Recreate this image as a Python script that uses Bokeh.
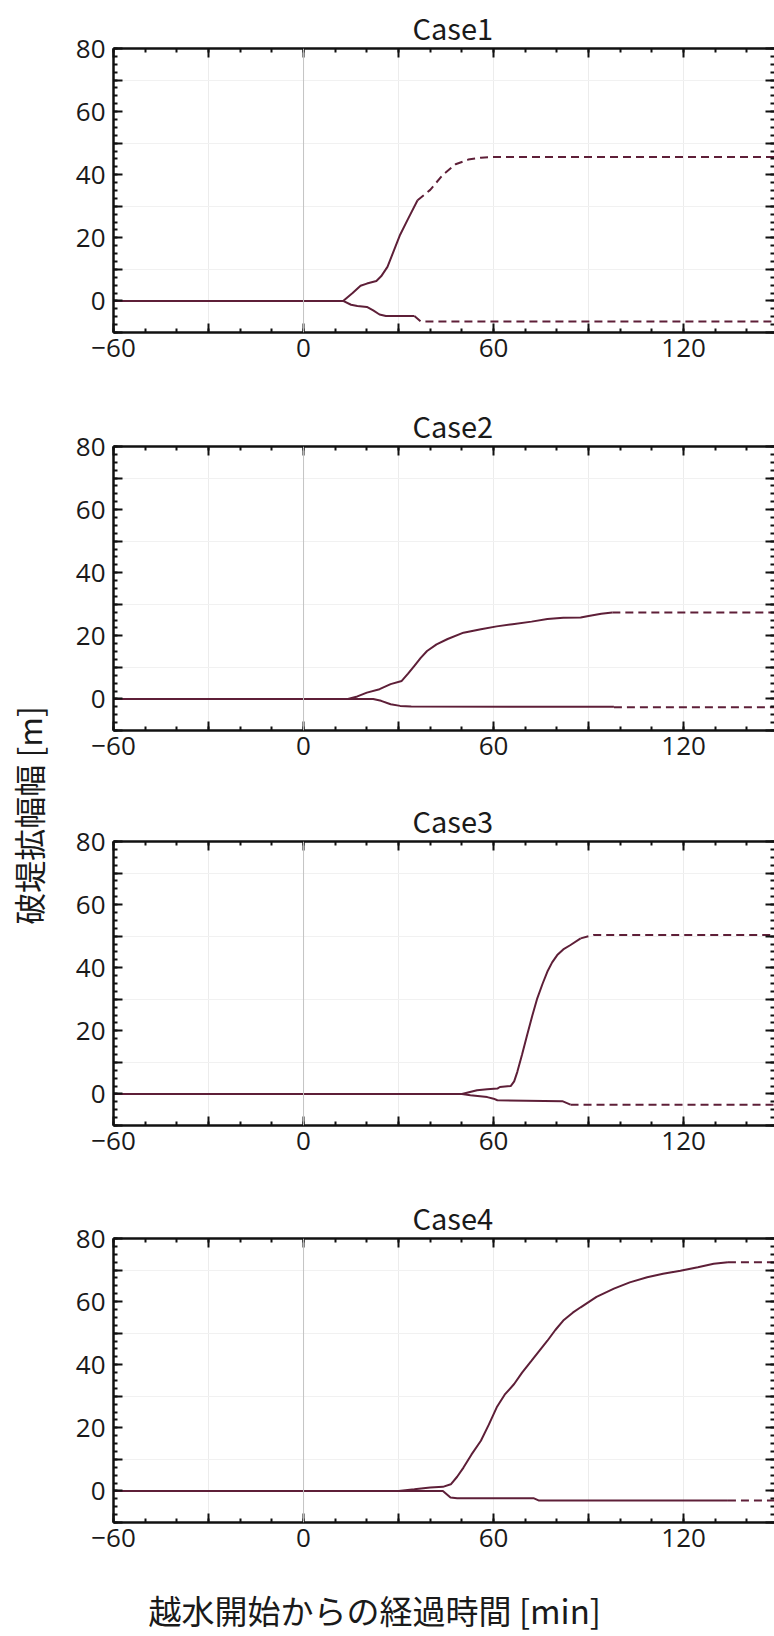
import math
from bokeh.plotting import figure
from bokeh.models import LinearAxis, FixedTicker, Label, Range1d, Span, Grid, Title
from bokeh.layouts import row, column
from bokeh.embed import file_html
from bokeh.resources import INLINE

# ---------------- data ----------------
CASES = ["Case1", "Case2", "Case3", "Case4"]
X_LABEL = "越水開始からの経過時間 [min]"
Y_LABEL = "破堤拡幅幅 [m]"

X_TICKS = [-60, -30, 0, 30, 60, 90, 120, 150]
X_TICK_LABELS = {-60: "\u221260", -30: "", 0: "0", 30: "", 60: "60", 90: "", 120: "120", 150: ""}
Y_TICKS = [-10, 0, 10, 20, 30, 40, 50, 60, 70, 80]
Y_TICK_LABELS = {-10: "", 0: "0", 10: "", 20: "20", 30: "", 40: "40", 50: "", 60: "60", 70: "", 80: "80"}

# Case1
c1_up_t = [-60, 12.5, 15.5, 18, 20, 23, 24.5, 26.5, 30.5, 33, 36]
c1_up_w = [0, 0, 2.5, 4.8, 5.5, 6.3, 7.8, 10.8, 21, 26, 31.9]
c1_up_dash_t = [36, 40, 44, 48, 52, 56, 60, 150]
c1_up_dash_w = [31.9, 35.2, 40, 43.3, 44.8, 45.4, 45.6, 45.6]
c1_lo_t = [-60, 12.5, 15, 17, 20, 22, 24, 26, 35]
c1_lo_w = [0, 0, -1.2, -1.6, -1.9, -3, -4.3, -4.8, -4.8]
c1_lo_dash_t = [35, 37, 150]
c1_lo_dash_w = [-4.8, -6.5, -6.5]

# Case2
c2_up_t = [-60, 14, 17, 20, 24, 27.5, 31, 33, 35, 37, 39, 42, 45.5, 50.5, 56, 61, 66, 72, 77, 82, 87.5, 90, 94, 97.5]
c2_up_w = [0, 0, 0.8, 2, 3.1, 4.7, 5.7, 8, 10.5, 13, 15.2, 17.3, 19, 21, 22.1, 23, 23.7, 24.5, 25.3, 25.7, 25.8, 26.3, 27, 27.4]
c2_up_dash_t = [97.5, 150]
c2_up_dash_w = [27.4, 27.4]
c2_lo_t = [-60, 22, 24.5, 27.5, 30.5, 34, 98]
c2_lo_w = [0, 0, -0.6, -1.7, -2.2, -2.4, -2.5]
c2_lo_dash_t = [98, 150]
c2_lo_dash_w = [-2.6, -2.6]

# Case3
c3_up_t = [-60, 50, 54.8, 58, 61.2, 62, 65.4, 66.5, 67.5, 69, 70.6, 72.2, 73.8, 75.5, 77, 78.5, 80.1, 82, 84.3, 87.5]
c3_up_w = [0, 0, 1.2, 1.5, 1.7, 2.2, 2.5, 4, 7, 12.5, 18.7, 24.7, 30.3, 35, 38.8, 41.7, 44, 45.8, 47.2, 49.3]
c3_up_dash_t = [87.5, 91.6, 150]
c3_up_dash_w = [49.3, 50.4, 50.4]
c3_lo_t = [-60, 50, 52.7, 58, 60, 61.2, 81.7, 84.3]
c3_lo_w = [0, 0, -0.4, -1, -1.5, -2, -2.3, -3.4]
c3_lo_dash_t = [84.3, 150]
c3_lo_dash_w = [-3.4, -3.4]

# Case4
c4_up_t = [-60, 30, 35, 40, 44, 46.5, 48.5, 50.5, 53, 56, 58.5, 61, 63.5, 66.5, 69, 72, 74.5, 77, 79.5, 82,
           85, 87.5, 92.5, 98, 103, 108.5, 113.5, 119, 124.5, 129.5, 134]
c4_up_w = [0, 0, 0.5, 1.1, 1.3, 2.1, 4.5, 7.4, 11.5, 15.9, 21, 26.5, 30.5, 33.9, 37.5, 41.3, 44.5, 47.6, 51, 54,
           56.5, 58.2, 61.5, 64.1, 66.1, 67.7, 68.8, 69.8, 70.9, 72, 72.5]
c4_up_dash_t = [134, 150]
c4_up_dash_w = [72.5, 72.5]
c4_lo_t = [-60, 44, 46.4, 48.5, 72.6, 74.2, 134]
c4_lo_w = [0, 0, -2.1, -2.3, -2.3, -3, -3]
c4_lo_dash_t = [134, 150]
c4_lo_dash_w = [-3, -3]

SERIES = [
    (c1_up_t, c1_up_w, c1_up_dash_t, c1_up_dash_w, c1_lo_t, c1_lo_w, c1_lo_dash_t, c1_lo_dash_w),
    (c2_up_t, c2_up_w, c2_up_dash_t, c2_up_dash_w, c2_lo_t, c2_lo_w, c2_lo_dash_t, c2_lo_dash_w),
    (c3_up_t, c3_up_w, c3_up_dash_t, c3_up_dash_w, c3_lo_t, c3_lo_w, c3_lo_dash_t, c3_lo_dash_w),
    (c4_up_t, c4_up_w, c4_up_dash_t, c4_up_dash_w, c4_lo_t, c4_lo_w, c4_lo_dash_t, c4_lo_dash_w),
]

# ---------------- style / layout ----------------
LINE_COLOR = "#5e1f38"
AX_COLOR = "#111111"
TICK_FONT = "Open Sans"
CJK_FONT = "Noto Sans CJK JP"
X_START, X_END = -60, 148.7
Y_START, Y_END = -10, 80
PAGE_W = 774
YSTRIP_W = 52
MAIN_W = PAGE_W - YSTRIP_W
FRAME_LEFT = 113
PANEL_H = [397, 395, 398, 382]
BORDER_TOP = [48, 49, 49, 48]
BORDER_BOTTOM = [65, 62, 65, 50]


def x_minor():
    return [v for v in range(-60, 151, 10)]


def y_minor():
    out = []
    v = -10.0
    while v <= 80.01:
        out.append(v)
        v += 2.5
    return out


def style_axis(ax, ticks, minor, overrides, labels, major_len, minor_len, standoff):
    ax.ticker = FixedTicker(ticks=ticks, minor_ticks=minor)
    ax.major_tick_in = major_len
    ax.major_tick_out = 0
    ax.minor_tick_in = minor_len
    ax.minor_tick_out = 0
    ax.major_tick_line_width = 2
    ax.minor_tick_line_width = 2
    ax.major_tick_line_color = AX_COLOR
    ax.minor_tick_line_color = AX_COLOR
    ax.axis_line_width = 2.5
    ax.axis_line_color = AX_COLOR
    if labels:
        ax.major_label_overrides = overrides
        ax.major_label_text_font = TICK_FONT
        ax.major_label_text_font_size = "26px"
        ax.major_label_text_color = "#1a1a1a"
        ax.major_label_standoff = standoff
    else:
        ax.major_label_overrides = {t: "" for t in ticks}
        ax.major_label_text_font_size = "0px"
        ax.major_label_standoff = 0


panels = []
for i, name in enumerate(CASES):
    p = figure(width=MAIN_W, height=PANEL_H[i],
               x_range=Range1d(X_START, X_END), y_range=Range1d(Y_START, Y_END),
               toolbar_location=None, output_backend="svg",
               x_axis_location=None, y_axis_location=None,
               min_border_left=FRAME_LEFT - YSTRIP_W, min_border_right=0,
               min_border_top=BORDER_TOP[i], min_border_bottom=BORDER_BOTTOM[i])
    p.outline_line_color = None
    p.grid.visible = False
    p.background_fill_color = "white"
    p.border_fill_color = "white"

    p.title = Title(text=name, align="left", offset=299, standoff=2,
                    text_font=CJK_FONT, text_font_size="29px", text_font_style="normal",
                    text_color="#1a1a1a")

    # faint grid
    p.add_layout(Grid(dimension=0, ticker=FixedTicker(ticks=[-30, 30, 60, 90, 120]),
                      grid_line_color="#ececec", grid_line_width=1))
    p.add_layout(Grid(dimension=1, ticker=FixedTicker(ticks=[10, 30, 50, 70]),
                      grid_line_color="#f1f1f1", grid_line_width=1))
    p.add_layout(Span(location=0, dimension="height", line_color="#c4c4c4", line_width=1))

    bottom = LinearAxis()
    style_axis(bottom, X_TICKS, x_minor(), X_TICK_LABELS, True, 9, 4, 6)
    p.add_layout(bottom, "below")
    top = LinearAxis()
    style_axis(top, X_TICKS, x_minor(), X_TICK_LABELS, False, 9, 4, 0)
    p.add_layout(top, "above")
    left = LinearAxis()
    style_axis(left, Y_TICKS, y_minor(), Y_TICK_LABELS, True, 9, 4, 8)
    p.add_layout(left, "left")
    right = LinearAxis()
    style_axis(right, Y_TICKS, y_minor(), Y_TICK_LABELS, False, 9, 4, 0)
    right.axis_line_color = None
    p.add_layout(right, "right")

    ut, uw, udt, udw, lt, lw, ldt, ldw = SERIES[i]
    p.line(udt, udw, line_color=LINE_COLOR, line_width=2, line_dash="8 5")
    p.line(ldt, ldw, line_color=LINE_COLOR, line_width=2, line_dash="8 5")
    p.line(lt, lw, line_color=LINE_COLOR, line_width=2)
    p.line(ut, uw, line_color=LINE_COLOR, line_width=2)
    panels.append(p)

# x-axis label strip (its frame is aligned with the panels' frames: page x 113..774)
XSTRIP_H = 64
xf = figure(width=MAIN_W, height=XSTRIP_H, x_range=Range1d(FRAME_LEFT, PAGE_W), y_range=Range1d(0, XSTRIP_H),
            toolbar_location=None, output_backend="svg", x_axis_type=None, y_axis_type=None,
            min_border=0, min_border_left=FRAME_LEFT - YSTRIP_W)
xf.outline_line_color = None
xf.grid.visible = False
xf.add_layout(Label(x=148, y=27, text=X_LABEL, text_align="left", text_baseline="middle",
                    text_font=CJK_FONT, text_font_size="33px", text_color="#1a1a1a"))

# y-axis label strip
yf = figure(width=YSTRIP_W, height=1636, x_range=Range1d(0, YSTRIP_W), y_range=Range1d(0, 1636),
            toolbar_location=None, output_backend="svg", x_axis_type=None, y_axis_type=None,
            min_border=0)
yf.outline_line_color = None
yf.grid.visible = False
yf.add_layout(Label(x=27, y=1636 - 815, text=Y_LABEL, angle=math.pi / 2, text_align="center",
                    text_baseline="middle", text_font=CJK_FONT, text_font_size="32px",
                    text_color="#1a1a1a"))

layout = row(yf, column(*panels, xf))
open("out.html", "w").write(file_html(layout, INLINE))
